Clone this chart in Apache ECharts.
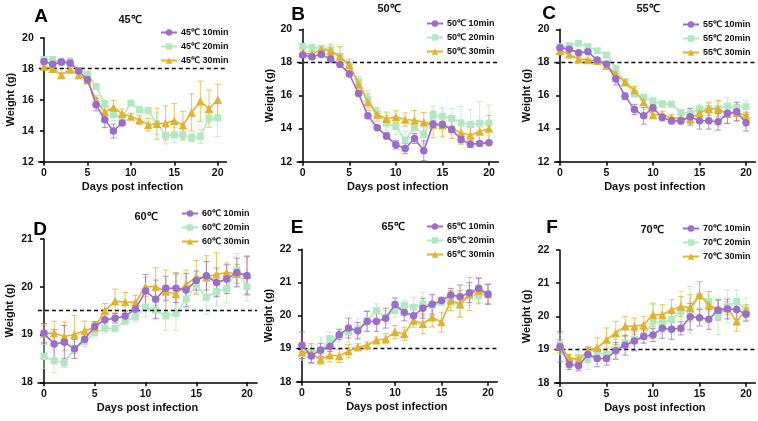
<!DOCTYPE html>
<html>
<head>
<meta charset="utf-8">
<script src="https://cdn.jsdelivr.net/npm/echarts@6/dist/echarts.min.js"></script>
<style>
html, body { margin: 0; padding: 0; background: #fff; }
#main { width: 758px; height: 421px; }
</style>
</head>
<body>
<div id="main"></div>
<script>
var days = [0,1,2,3,4,5,6,7,8,9,10,11,12,13,14,15,16,17,18,19,20];

// A - 45℃
var a10 = [18.47,18.28,18.43,18.37,17.85,17.3,15.68,14.7,13.98,14.5];
var a10Err = [0.15,0.15,0.2,0.2,0.1,0.15,0.4,0.5,0.45,0.15];
var a20 = [18.6,18.6,18.4,18.5,17.9,17.65,16.85,15.75,15.05,14.85,15.78,15.35,15.3,14.45,13.7,13.74,13.74,13.55,13.63,14.84,14.82];
var a20Err = [0.15,0.1,0.15,0.15,0.1,0.1,0.15,0.2,0.4,0.3,0.15,0.2,0.2,0.7,0.55,0.5,0.4,0.25,0.45,0.3,1.2];
var a30 = [18.15,18.0,17.6,17.95,17.6,17.25,15.95,15.2,15.5,15.1,14.92,14.7,14.39,14.45,14.5,14.65,14.35,15.18,15.9,15.42,16.0];
var a30Err = [0.1,0.1,0.15,0.1,0.1,0.2,0.3,0.35,0.45,0.3,0.2,0.3,0.4,1.0,1.1,1.1,0.9,1.2,1.3,1.2,1.0];

// B - 50℃
var b10 = [18.44,18.34,18.5,18.2,17.88,17.3,16.12,14.77,14.05,13.56,13.02,12.8,13.4,12.66,14.27,14.25,13.95,13.34,13.06,13.1,13.14];
var b10Err = [0.15,0.15,0.2,0.2,0.1,0.15,0.15,0.15,0.1,0.2,0.25,0.3,0.3,0.6,0.2,0.2,0.2,0.2,0.2,0.1,0.1];
var b20 = [18.97,18.9,18.85,18.77,18.36,17.8,16.85,15.78,14.92,14.33,14.13,13.3,14.1,13.63,14.8,14.75,14.62,14.35,14.25,14.33,14.33];
var b20Err = [0.1,0.1,0.15,0.1,0.15,0.2,0.3,0.5,0.3,0.45,0.5,0.55,0.4,0.55,0.6,0.5,0.6,1.0,0.9,1.3,1.1];
var b30 = [18.55,18.5,18.8,18.7,18.35,17.85,16.7,15.6,14.85,14.6,14.72,14.55,14.5,14.38,14.25,14.2,14.0,13.75,13.6,13.82,14.0];
var b30Err = [0.15,0.15,0.2,0.4,0.6,0.35,0.3,0.5,0.4,0.4,0.35,0.4,0.6,0.6,0.8,0.7,0.6,0.7,0.5,0.6,0.8];

// C - 55℃
var c10 = [18.89,18.8,18.58,18.65,18.14,17.9,16.99,15.96,15.16,14.77,15.26,14.67,14.47,14.47,14.71,14.47,14.47,14.41,14.92,15.02,14.35];
var c10Err = [0.1,0.1,0.1,0.1,0.1,0.1,0.35,0.2,0.3,0.5,0.2,0.2,0.2,0.2,0.5,0.5,0.5,0.5,0.6,0.55,0.5];
var c20 = [18.95,19.0,19.15,18.95,18.7,18.45,17.6,16.83,16.08,15.88,15.66,15.48,15.48,14.97,14.92,15.18,15.22,15.22,15.36,15.25,15.32];
var c20Err = [0.1,0.1,0.1,0.1,0.1,0.15,0.2,0.2,0.15,0.2,0.2,0.2,0.15,0.2,0.3,0.3,0.3,0.4,0.5,0.4,0.35];
var c30 = [18.7,18.5,18.2,18.15,18.1,17.8,17.3,16.8,16.33,15.6,14.82,14.85,14.65,14.6,14.6,14.95,15.2,15.2,14.9,14.95,14.8];
var c30Err = [0.1,0.15,0.15,0.1,0.1,0.15,0.15,0.15,0.2,0.15,0.2,0.2,0.2,0.2,0.3,0.4,0.4,0.5,0.6,0.5,0.2];

// D - 60℃
var d10 = [19.03,18.8,18.84,18.7,18.9,19.17,19.31,19.34,19.39,19.53,19.91,19.74,19.97,19.97,19.93,20.13,20.23,20.09,20.16,20.3,20.23];
var d10Err = [0.2,0.3,0.35,0.2,0.1,0.1,0.15,0.1,0.1,0.15,0.35,0.4,0.25,0.3,0.35,0.2,0.3,0.3,0.3,0.3,0.4];
var d20 = [18.54,18.45,18.41,18.7,18.85,19.04,19.13,19.13,19.28,19.37,19.57,19.51,19.39,19.44,19.74,20.04,19.78,19.9,19.96,20.35,20.0];
var d20Err = [0.25,0.25,0.1,0.2,0.1,0.1,0.1,0.05,0.05,0.1,0.2,0.2,0.3,0.35,0.2,0.2,0.35,0.3,0.3,0.35,0.3];
var d30 = [19.02,19.03,18.96,19.0,19.08,19.15,19.5,19.7,19.68,19.67,20.0,20.0,19.9,19.85,20.05,20.2,20.2,20.26,20.3,20.27,20.25];
var d30Err = [0.2,0.25,0.3,0.4,0.2,0.1,0.15,0.25,0.2,0.15,0.2,0.4,0.45,0.45,0.3,0.35,0.45,0.45,0.2,0.2,0.4];

// E - 65℃
var e10 = [19.1,18.78,18.96,19.06,19.42,19.62,19.54,19.82,19.82,19.92,20.33,20.09,19.99,20.22,20.34,20.45,20.62,20.57,20.69,20.82,20.64];
var e10Err = [0.4,0.2,0.2,0.15,0.15,0.3,0.25,0.3,0.3,0.3,0.2,0.25,0.25,0.3,0.3,0.1,0.2,0.35,0.3,0.3,0.3];
var e20 = [18.85,18.9,18.95,19.3,19.4,19.5,19.6,19.85,20.15,19.95,20.15,20.3,20.25,20.35,20.3,20.4,20.45,20.3,20.6,20.6,20.65];
var e20Err = [0.2,0.2,0.4,0.2,0.2,0.3,0.3,0.3,0.2,0.2,0.2,0.15,0.3,0.35,0.3,0.1,0.2,0.35,0.3,0.2,0.3];
var e30 = [18.9,18.85,18.68,18.8,18.78,18.92,19.05,19.1,19.25,19.3,19.5,19.45,19.85,19.75,19.95,19.8,20.45,20.35,20.65,20.75,20.65];
var e30Err = [0.2,0.3,0.15,0.2,0.2,0.2,0.1,0.1,0.1,0.15,0.2,0.2,0.2,0.3,0.3,0.3,0.3,0.4,0.5,0.4,0.3];

// F - 70℃
var f10 = [19.08,18.55,18.51,18.85,18.73,18.73,18.96,19.13,19.26,19.39,19.44,19.64,19.61,19.64,19.99,19.96,19.91,20.19,20.22,20.21,20.06];
var f10Err = [0.45,0.15,0.15,0.2,0.25,0.2,0.25,0.3,0.3,0.2,0.2,0.3,0.3,0.2,0.4,0.25,0.3,0.3,0.3,0.3,0.2];
var f20 = [19.15,18.65,18.75,18.7,18.9,18.85,19.0,19.2,19.3,19.4,19.85,19.8,19.9,20.15,20.2,20.6,20.45,20.0,20.3,20.45,20.2];
var f20Err = [0.3,0.2,0.2,0.3,0.2,0.2,0.3,0.2,0.2,0.2,0.5,0.3,0.3,0.6,0.7,0.4,0.3,0.55,0.5,0.35,0.35];
var f30 = [19.1,18.75,18.7,18.95,19.05,19.3,19.5,19.7,19.7,19.75,20.05,20.05,20.2,20.3,20.25,20.65,20.35,20.2,20.25,19.85,20.2];
var f30Err = [0.2,0.1,0.15,0.15,0.3,0.35,0.35,0.3,0.25,0.25,0.35,0.3,0.3,0.3,0.4,0.4,0.4,0.3,0.2,0.3,0.15];

var colPurple = '#9b6cca', colGreen = '#b0e9c0', colGold = '#e3b22b';
var font = 'Liberation Sans, Arial, sans-serif';

// panel layout (pixel spots of day 0 / day 20, y top / bottom)
var panels = [
  {temp: '45', letter: 'A', x0: 44, x20: 217.7, top: 37.7, bot: 161.7, ymin: 12, ymax: 20, yint: 2, ref: 18,
   data: [[a10, a10Err], [a20, a20Err], [a30, a30Err]], letterAt: [41, 17], titleAt: [130, 20], legAt: [155, 23]},
  {temp: '50', letter: 'B', x0: 302.7, x20: 489, top: 29.3, bot: 161.7, ymin: 12, ymax: 20, yint: 2, ref: 18,
   data: [[b10, b10Err], [b20, b20Err], [b30, b30Err]], letterAt: [298, 15], titleAt: [389, 9], legAt: [421, 14]},
  {temp: '55', letter: 'C', x0: 560, x20: 746, top: 29.3, bot: 161.7, ymin: 12, ymax: 20, yint: 2, ref: 18,
   data: [[c10, c10Err], [c20, c20Err], [c30, c30Err]], letterAt: [549, 14], titleAt: [648, 9], legAt: [677, 15]},
  {temp: '60', letter: 'D', x0: 44, x20: 247, top: 239, bot: 382.3, ymin: 18, ymax: 21, yint: 1, ref: 19.5,
   data: [[d10, d10Err], [d20, d20Err], [d30, d30Err]], letterAt: [40, 230], titleAt: [146, 217], legAt: [176, 204]},
  {temp: '65', letter: 'E', x0: 302, x20: 488, top: 249.3, bot: 381.7, ymin: 18, ymax: 22, yint: 1, ref: 19,
   data: [[e10, e10Err], [e20, e20Err], [e30, e30Err]], letterAt: [297, 228], titleAt: [393, 227], legAt: [421, 217]},
  {temp: '70', letter: 'F', x0: 560, x20: 746, top: 250, bot: 382.7, ymin: 18, ymax: 22, yint: 1, ref: 19,
   data: [[f10, f10Err], [f20, f20Err], [f30, f30Err]], letterAt: [552, 228], titleAt: [652, 230], legAt: [677, 219]}
];

var colors = [colPurple, colGreen, colGold];
var symbols = ['circle', 'rect', 'triangle'];
var sizes = [7.5, 7, 8.5];
var mins = ['10min', '20min', '30min'];

function errorBars(color) {
  return function (params, api) {
    var x = api.value(0), m = api.value(1), e = api.value(2);
    var hi = api.coord([x, m + e]);
    var lo = api.coord([x, m - e]);
    var w = 3;
    var st = {stroke: color, lineWidth: 1, opacity: 0.75};
    return {
      type: 'group',
      children: [
        {type: 'line', shape: {x1: hi[0], y1: hi[1], x2: lo[0], y2: lo[1]}, style: st},
        {type: 'line', shape: {x1: hi[0] - w, y1: hi[1], x2: hi[0] + w, y2: hi[1]}, style: st},
        {type: 'line', shape: {x1: lo[0] - w, y1: lo[1], x2: lo[0] + w, y2: lo[1]}, style: st}
      ]
    };
  };
}

var grids = [], xAxes = [], yAxes = [], series = [], legends = [], graphics = [];
var order = [1, 2, 0]; // draw green, gold, then purple on top

panels.forEach(function (p, k) {
  var pd = (p.x20 - p.x0) / 20;
  grids.push({left: p.x0 - 0.6 * pd, top: p.top, width: 21.6 * pd, height: p.bot - p.top});
  xAxes.push({
    gridIndex: k, type: 'value', min: -0.6, max: 21,
    name: 'Days post infection', nameLocation: 'middle', nameGap: 20,
    nameTextStyle: {color: '#111', fontWeight: 'bold', fontSize: 11, fontFamily: font},
    axisLine: {onZero: false, lineStyle: {color: '#000', width: 1.5}},
    axisTick: {length: 4, lineStyle: {color: '#000', width: 1.5}, customValues: [0, 5, 10, 15, 20]},
    axisLabel: {customValues: [0, 5, 10, 15, 20], color: '#111', fontWeight: 'bold', fontSize: 10.5, fontFamily: font, margin: 6},
    splitLine: {show: false}
  });
  yAxes.push({
    gridIndex: k, type: 'value', min: p.ymin, max: p.ymax, interval: p.yint,
    name: 'Weight (g)', nameLocation: 'middle', nameGap: 22,
    nameTextStyle: {color: '#111', fontWeight: 'bold', fontSize: 11, fontFamily: font},
    axisLine: {show: true, lineStyle: {color: '#000', width: 1.5}},
    axisTick: {show: true, length: 4, lineStyle: {color: '#000', width: 1.5}},
    axisLabel: {color: '#111', fontWeight: 'bold', fontSize: 10.5, fontFamily: font, margin: 5},
    splitLine: {show: false}
  });

  var names = mins.map(function (m) { return p.temp + '℃ ' + m; });

  order.forEach(function (j, n) {
    var vals = p.data[j][0], errs = p.data[j][1];
    var pts = [], eb = [];
    for (var i = 0; i < vals.length; i++) {
      pts.push([days[i], vals[i]]);
      eb.push([days[i], vals[i], errs[i]]);
    }
    series.push({
      type: 'custom', name: names[j] + ' err', xAxisIndex: k, yAxisIndex: k,
      renderItem: errorBars(colors[j]), data: eb, z: 1 + n, silent: true,
      encode: {x: 0, y: 1}
    });
    var s = {
      type: 'line', name: names[j], xAxisIndex: k, yAxisIndex: k, data: pts,
      symbol: symbols[j], symbolSize: sizes[j], showAllSymbol: true,
      itemStyle: {color: colors[j]}, lineStyle: {color: colors[j], width: 1.6},
      z: 4 + n, animation: false
    };
    if (n === 0) {
      s.markLine = {
        silent: true, symbol: 'none', label: {show: false},
        lineStyle: {color: '#000', type: [4, 3], width: 1.4},
        data: [{yAxis: p.ref}]
      };
    }
    series.push(s);
  });

  legends.push({
    data: names, orient: 'vertical', left: p.legAt[0], top: p.legAt[1],
    itemWidth: 16, itemHeight: 8, itemGap: 5, selectedMode: false,
    textStyle: {color: '#111', fontWeight: 'bold', fontSize: 9, fontFamily: font, padding: [0, 0, 0, -1]}
  });

  graphics.push({
    type: 'text', x: p.letterAt[0], y: p.letterAt[1],
    style: {text: p.letter, fill: '#000', font: 'bold 19px ' + font, textAlign: 'center', textVerticalAlign: 'middle'}
  });
  graphics.push({
    type: 'text', x: p.titleAt[0], y: p.titleAt[1],
    style: {text: p.temp + '℃', fill: '#111', font: 'bold 11px ' + font, textAlign: 'center', textVerticalAlign: 'middle'}
  });
});

var chart = echarts.init(document.getElementById('main'));
chart.setOption({
  animation: false,
  backgroundColor: '#fff',
  grid: grids,
  xAxis: xAxes,
  yAxis: yAxes,
  legend: legends,
  graphic: graphics,
  series: series
});
</script>
</body>
</html>
